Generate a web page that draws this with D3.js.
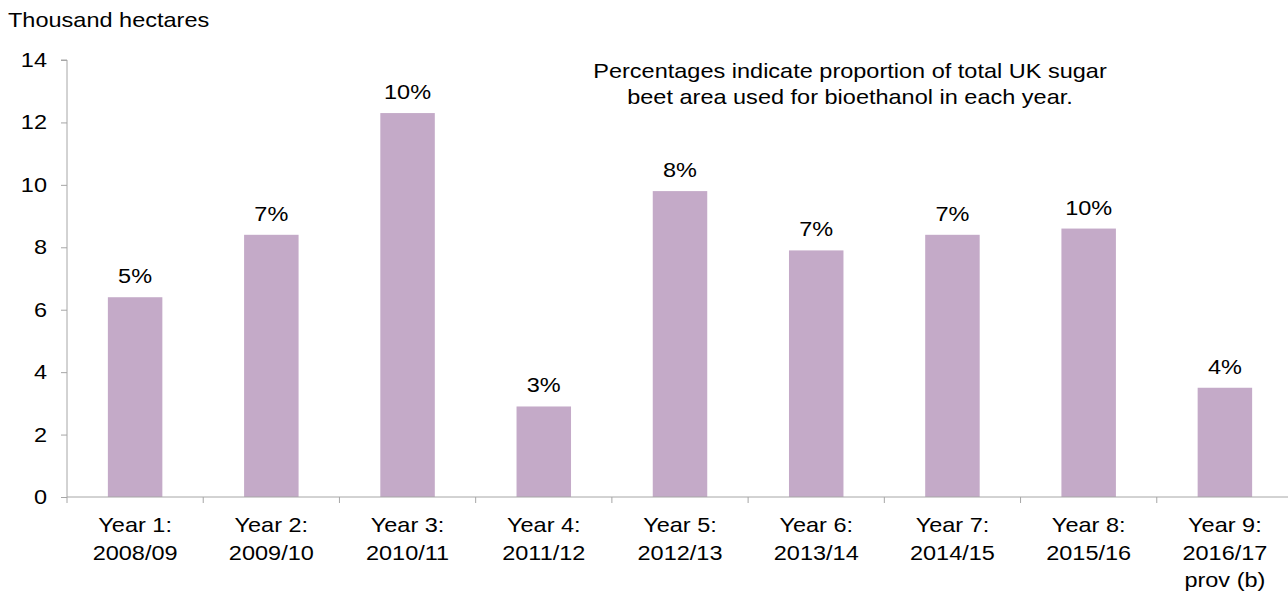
<!DOCTYPE html>
<html><head><meta charset="utf-8">
<script src="https://cdn.jsdelivr.net/npm/d3@7"></script>
<style>body{margin:0;background:#fff;} svg{display:block;font-family:"Liberation Sans",Arial,sans-serif;}</style>
</head><body>
<svg id="c" width="1288" height="592"></svg>
<script>
const categories = [["Year 1:","2008/09"],["Year 2:","2009/10"],["Year 3:","2010/11"],["Year 4:","2011/12"],["Year 5:","2012/13"],["Year 6:","2013/14"],["Year 7:","2014/15"],["Year 8:","2015/16"],["Year 9:","2016/17","prov (b)"]];
const values = [6.4, 8.4, 12.3, 2.9, 9.8, 7.9, 8.4, 8.6, 3.5];
const percentLabels = ["5%","7%","10%","3%","8%","7%","7%","10%","4%"];
const yTicks = [0,2,4,6,8,10,12,14];
const yTitle = "Thousand hectares";
const note = ["Percentages indicate proportion of total UK sugar","beet area used for bioethanol in each year."];

(function(){
const svg = d3.select("#c");
const pLeft = 67, pRight = 1293, pTop = 60, pBottom = 497;
const keys = categories.map((d,i)=>i);
const x = d3.scaleBand().domain(keys).range([pLeft,pRight]).paddingInner(0.6).paddingOuter(0.3);
const y = d3.scaleLinear().domain([0,14]).range([pBottom,pTop]);
const fs = 21, sx = 1.12;
const axisColor = "#a6a6a6";

function txt(g, xx, yy, s, anchor){
  return g.append("text").attr("transform",`translate(${xx},${yy}) scale(${sx},1)`)
    .attr("text-anchor",anchor||"start").attr("font-size",fs).attr("fill","#000").text(s);
}

// y axis
const ya = svg.append("g").attr("transform",`translate(${pLeft},0)`)
  .call(d3.axisLeft(y).tickValues(yTicks).tickSize(6).tickFormat(""));
ya.select(".domain").attr("stroke",axisColor).attr("d",`M-6,${pTop}H0V${pBottom}`);
ya.selectAll(".tick line").attr("stroke",axisColor);
const yl = svg.append("g");
yTicks.forEach(v=>txt(yl, pLeft-20, y(v)+7, String(v), "end"));

// bars
svg.append("g").selectAll("rect").data(values).join("rect")
  .attr("x",(d,i)=>x(i)).attr("width",x.bandwidth())
  .attr("y",d=>y(d)).attr("height",d=>pBottom-y(d))
  .attr("fill","#c4aac8");

// x axis
const step = x.step();
const xg = svg.append("g");
xg.append("line").attr("x1",pLeft).attr("x2",1288).attr("y1",pBottom).attr("y2",pBottom).attr("stroke",axisColor);
xg.selectAll("line.t").data(d3.range(categories.length+1)).join("line").attr("class","t")
  .attr("x1",i=>pLeft+i*step).attr("x2",i=>pLeft+i*step).attr("y1",pBottom).attr("y2",pBottom+6).attr("stroke",axisColor);
categories.forEach((d,i)=>{
  d.forEach((line,j)=>txt(xg, x(i)+x.bandwidth()/2, 532+j*27.5, line, "middle"));
});

// value labels
const vl = svg.append("g");
values.forEach((v,i)=>txt(vl, x(i)+x.bandwidth()/2, y(v)-14, percentLabels[i], "middle"));

// title
txt(svg, 8, 27, yTitle, "start");

// note
note.forEach((s,i)=>txt(svg, 850, 78+i*26, s, "middle"));
})();
</script>
</body></html>
